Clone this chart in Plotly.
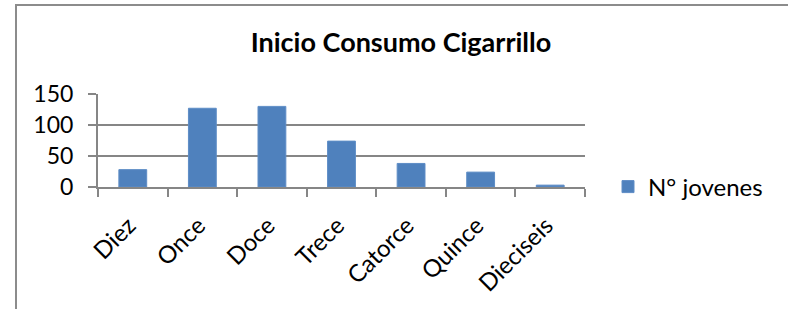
import plotly.graph_objects as go

categories = ["Diez", "Once", "Doce", "Trece", "Catorce", "Quince", "Dieciseis"]
values = [28, 127, 130, 74, 38, 24, 3]
series_name = "N° jovenes"
title_text = "Inicio Consumo Cigarrillo"
y_ticks = [0, 50, 100, 150]

W, H = 788, 309
L, R, T, B = 98, 203, 94, 122
FONT = "Lato"
GRID = "#868686"

fig = go.Figure()
fig.add_trace(go.Bar(
    x=categories, y=values, name=series_name,
    marker=dict(color="#4F81BD", line=dict(color="#5E8DC6", width=1)),
    width=0.4, showlegend=True,
))

plot_w = W - L - R
plot_h = H - T - B

fig.update_layout(
    width=W, height=H,
    margin=dict(l=L, r=R, t=T, b=B, pad=0, autoexpand=False),
    paper_bgcolor="white", plot_bgcolor="white",
    font=dict(family=FONT, color="black", size=23),
    title=dict(text="<b>" + title_text + "</b>", x=401 / W, xanchor="center",
               y=1 - 43 / H, yanchor="middle", font=dict(size=27, family=FONT)),
    showlegend=True,
    legend=dict(x=(608 - L) / plot_w, xanchor="left", y=0, yanchor="middle",
                font=dict(size=24, family=FONT), bgcolor="rgba(0,0,0,0)"),
    bargap=0.6,
)
fig.update_xaxes(
    type="category", tickangle=-45, showline=True, linecolor=GRID, linewidth=2,
    ticks="outside", tickson="boundaries", ticklen=8, tickcolor=GRID, tickwidth=2,
    showgrid=False, tickfont=dict(size=24, family=FONT), ticklabelstandoff=13,
    ticklabelshift=-4, automargin=False,
)
fig.update_yaxes(
    range=[0, 150], tickvals=y_ticks, showline=True, linecolor=GRID, linewidth=2,
    ticks="outside", ticklen=8, tickcolor=GRID, tickwidth=2,
    showgrid=True, gridcolor=GRID, gridwidth=2, zeroline=False,
    tickfont=dict(size=23, family=FONT), ticklabelstandoff=10, automargin=False,
)
# outer chart border (left and top edges visible)
fig.add_shape(type="line", xref="paper", yref="paper",
              x0=(16 - L) / plot_w, x1=(W + 20 - L) / plot_w,
              y0=((H - B) - 5) / plot_h, y1=((H - B) - 5) / plot_h,
              line=dict(color="#8C8C8C", width=2), layer="below")
fig.add_shape(type="line", xref="paper", yref="paper",
              x0=(16 - L) / plot_w, x1=(16 - L) / plot_w,
              y0=-(H + 20 - (H - B)) / plot_h, y1=((H - B) - 4) / plot_h,
              line=dict(color="#8C8C8C", width=2), layer="below")

fig.write_html("out.html", config={"displayModeBar": False},
               post_script="document.body.style.margin='0';")
